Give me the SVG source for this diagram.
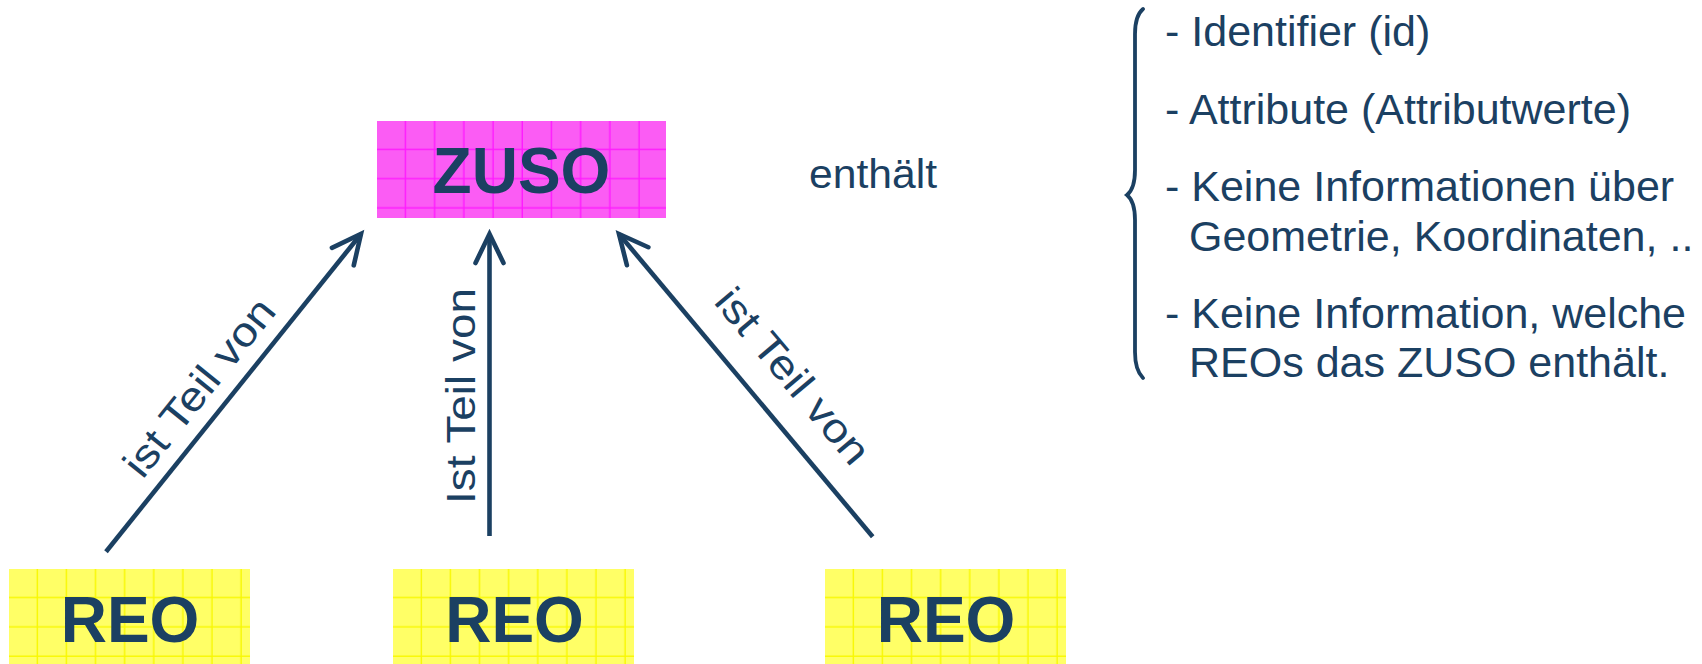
<svg xmlns="http://www.w3.org/2000/svg" width="1702" height="664" viewBox="0 0 1702 664">
  <style>
    .node-text { font-family: "Liberation Sans", Arial, sans-serif; font-weight: bold; font-size: 64px; fill: #1b4062; text-anchor: middle; }
    .label { font-family: "Liberation Sans", Arial, sans-serif; font-size: 41px; fill: #1b4062; }
    .list { font-family: "Liberation Sans", Arial, sans-serif; font-size: 43px; fill: #1b4062; }
    .conn { stroke: #1b4062; stroke-width: 4.6; fill: none; }
  </style>
  <defs>
    <pattern id="pinkGrid" patternUnits="userSpaceOnUse" x="377" y="121" width="29.2" height="29.2">
      <rect x="0" y="0" width="29.2" height="29.2" fill="#fb5cf4"/>
      <rect x="27.8" y="0" width="1.4" height="29.2" fill="#ff1aff"/>
      <rect x="0" y="27.8" width="29.2" height="1.4" fill="#ff1aff"/>
    </pattern>
    <pattern id="yellowGrid1" patternUnits="userSpaceOnUse" x="9" y="569" width="29.1" height="29.3">
      <rect x="0" y="0" width="29.1" height="29.3" fill="#ffff66"/>
      <rect x="27.7" y="0" width="1.4" height="29.3" fill="#f8f800"/>
      <rect x="0" y="27.9" width="29.1" height="1.4" fill="#f8f800"/>
    </pattern>
    <pattern id="yellowGrid2" patternUnits="userSpaceOnUse" x="393" y="569" width="29.1" height="29.3">
      <rect x="0" y="0" width="29.1" height="29.3" fill="#ffff66"/>
      <rect x="27.7" y="0" width="1.4" height="29.3" fill="#f8f800"/>
      <rect x="0" y="27.9" width="29.1" height="1.4" fill="#f8f800"/>
    </pattern>
    <pattern id="yellowGrid3" patternUnits="userSpaceOnUse" x="825" y="569" width="29.1" height="29.3">
      <rect x="0" y="0" width="29.1" height="29.3" fill="#ffff66"/>
      <rect x="27.7" y="0" width="1.4" height="29.3" fill="#f8f800"/>
      <rect x="0" y="27.9" width="29.1" height="1.4" fill="#f8f800"/>
    </pattern>
    <marker id="chev" markerUnits="userSpaceOnUse" viewBox="-36 -20 42 40" refX="0" refY="0" markerWidth="42" markerHeight="40" orient="auto" overflow="visible">
      <path d="M-29,-14 L0,0 L-29,14" fill="none" stroke="#1b4062" stroke-width="4.6" stroke-linecap="round" stroke-linejoin="miter"/>
    </marker>
  </defs>

  <rect width="1702" height="664" fill="#ffffff"/>

  <g id="zuso">
    <rect x="377" y="121" width="289" height="97" fill="url(#pinkGrid)"/>
    <text class="node-text" x="521.5" y="192.7">ZUSO</text>
  </g>

  <g id="reo1">
    <rect x="9" y="569" width="241" height="95" fill="url(#yellowGrid1)"/>
    <text class="node-text" x="130" y="641.7">REO</text>
  </g>
  <g id="reo2">
    <rect x="393" y="569" width="241" height="95" fill="url(#yellowGrid2)"/>
    <text class="node-text" x="514.5" y="641.7">REO</text>
  </g>
  <g id="reo3">
    <rect x="825" y="569" width="241" height="95" fill="url(#yellowGrid3)"/>
    <text class="node-text" x="946" y="641.7">REO</text>
  </g>

  <g id="connectors">
    <line class="conn" x1="106" y1="551.7" x2="361" y2="234" marker-end="url(#chev)"/>
    <line class="conn" x1="489.5" y1="536" x2="489.5" y2="234" marker-end="url(#chev)"/>
    <line class="conn" x1="872.7" y1="536.7" x2="619" y2="234" marker-end="url(#chev)"/>
    <text class="label" text-anchor="middle" textLength="216" lengthAdjust="spacingAndGlyphs" transform="translate(210,396) rotate(-51.25)">ist Teil von</text>
    <text class="label" text-anchor="middle" textLength="216" lengthAdjust="spacingAndGlyphs" transform="translate(475,396) rotate(-90)">Ist Teil von</text>
    <text class="label" text-anchor="middle" textLength="216" lengthAdjust="spacingAndGlyphs" transform="translate(782,385) rotate(50.04)">ist Teil von</text>
  </g>

  <g id="enthaelt">
    <text class="label" x="809" y="187.7" font-size="40" textLength="128" lengthAdjust="spacingAndGlyphs">enthält</text>
  </g>

  <g id="brace">
    <path d="M1143,9 C1137,14 1135,22 1135,34 L1135,170 C1135,184 1132,191 1127,195 C1132,199 1135,206 1135,220 L1135,352 C1135,364 1137,372 1143,378" fill="none" stroke="#1b4062" stroke-width="3.8" stroke-linecap="round"/>
  </g>

  <g id="list">
    <text class="list" x="1165" y="46">- Identifier (id)</text>
    <text class="list" x="1165" y="124">- Attribute (Attributwerte)</text>
    <text class="list" x="1165" y="200.5">- Keine Informationen über</text>
    <text class="list" x="1189" y="251">Geometrie, Koordinaten, ..</text>
    <text class="list" x="1165" y="327.5">- Keine Information, welche</text>
    <text class="list" x="1189" y="377">REOs das ZUSO enthält.</text>
  </g>
</svg>
